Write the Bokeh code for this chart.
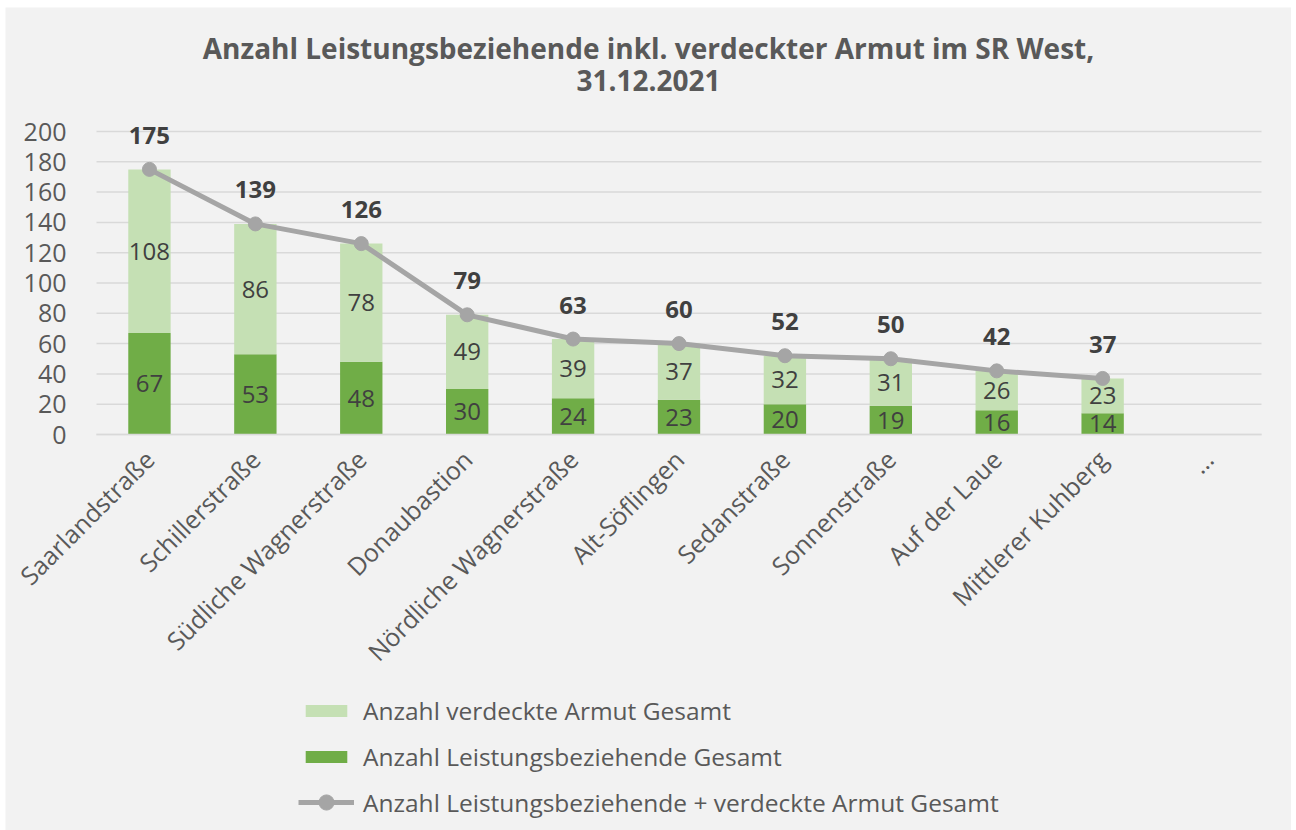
from math import pi
from bokeh.plotting import figure
from bokeh.models import (ColumnDataSource, Legend, LegendItem, FixedTicker,
                          LabelSet, Label, Range1d)
from bokeh.core.properties import value
from bokeh.embed import file_html
from bokeh.resources import INLINE

categories = ["Saarlandstraße", "Schillerstraße", "Südliche Wagnerstraße", "Donaubastion",
              "Nördliche Wagnerstraße", "Alt-Söflingen", "Sedanstraße", "Sonnenstraße",
              "Auf der Laue", "Mittlerer Kuhberg", "…"]
bar_categories = categories[:10]
leistung = [67, 53, 48, 30, 24, 23, 20, 19, 16, 14]
verdeckt = [108, 86, 78, 49, 39, 37, 32, 31, 26, 23]
gesamt = [175, 139, 126, 79, 63, 60, 52, 50, 42, 37]
y_ticks = [0, 20, 40, 60, 80, 100, 120, 140, 160, 180, 200]
title_lines = ["Anzahl Leistungsbeziehende inkl. verdeckter Armut im SR West,", "31.12.2021"]
legend_labels = ["Anzahl verdeckte Armut Gesamt", "Anzahl Leistungsbeziehende Gesamt",
                 "Anzahl Leistungsbeziehende + verdeckte Armut Gesamt"]

FONT = "Open Sans"
TXT = "#595959"
DTXT = "#404040"
LIGHT = "#c5e0b4"
DARK = "#70ad47"
LINEC = "#a5a5a5"
GRID = "#d9d9d9"

# layout geometry (pixels inside the figure)
W, H = 1286, 823
CAT_L, CAT_R = 91, 1256            # left / right edge of the category area
Y0_PX, Y200_PX = 427, 124          # pixel rows of value 0 and 200
n = len(categories)
upx = (CAT_R - CAT_L) / n
ppu = (Y0_PX - Y200_PX) / 200.0
x_lo, x_hi = -CAT_L / upx, n + (W - CAT_R) / upx
y_hi = 200 + Y200_PX / ppu
y_lo = -(H - Y0_PX) / ppu

xpos_all = [i + 0.5 for i in range(n)]
xpos = xpos_all[:len(bar_categories)]

src = ColumnDataSource(dict(
    x=xpos,
    cat=bar_categories,
    leistung=leistung,
    verdeckt=verdeckt,
    gesamt=gesamt,
    mid_l=[v / 2 for v in leistung],
    mid_v=[l + v / 2 for l, v in zip(leistung, verdeckt)],
    l_txt=[str(v) for v in leistung],
    v_txt=[str(v) for v in verdeckt],
    g_txt=[str(v) for v in gesamt],
))

p = figure(x_range=Range1d(x_lo, x_hi), y_range=Range1d(y_lo, y_hi), width=W, height=H,
           output_backend="svg", toolbar_location=None, title=None,
           min_border_left=0, min_border_right=0, min_border_top=0, min_border_bottom=0)
p.margin = (7, 0, 0, 5)

p.background_fill_color = "#f2f2f2"
p.border_fill_color = "#f2f2f2"
p.outline_line_color = None
p.xgrid.visible = False
p.ygrid.visible = False

# title (two centred lines)
for txt, yy in zip(title_lines, [H - 40, H - 73]):
    p.add_layout(Label(x=W / 2, y=yy, x_units="screen", y_units="screen",
                       text=txt, text_font=FONT, text_font_size="28px", text_font_style="bold",
                       text_color=TXT, text_align="center", text_baseline="middle"))

# horizontal grid lines over the category area
p.segment(x0=0, x1=n, y0=y_ticks, y1=y_ticks, line_color=GRID, line_width=1.5)

r_dark = p.vbar(x="x", top="leistung", bottom=0, width=0.4, source=src,
                fill_color=DARK, line_color=None)
r_light = p.vbar(x="x", top="gesamt", bottom="leistung", width=0.4, source=src,
                 fill_color=LIGHT, line_color=None)
r_line = p.line(x="x", y="gesamt", source=src, line_color=LINEC, line_width=5)
r_pts = p.scatter(x="x", y="gesamt", source=src, size=14, fill_color=LINEC, line_color=LINEC)

p.text(x="x", y="mid_l", text="l_txt", source=src, text_font=value(FONT), text_font_size="24px",
       text_color=DTXT, text_align="center", text_baseline="middle")
p.text(x="x", y="mid_v", text="v_txt", source=src, text_font=value(FONT), text_font_size="24px",
       text_color=DTXT, text_align="center", text_baseline="middle")
p.add_layout(LabelSet(x="x", y="gesamt", text="g_txt", source=src, text_font=value(FONT),
                      text_font_size="24px", text_font_style="bold", text_color=DTXT,
                      text_align="center", text_baseline="middle", y_offset=34))

# y axis at the left edge of the category area
p.yaxis.fixed_location = 0
p.yaxis.bounds = (0, 200)
p.yaxis.ticker = FixedTicker(ticks=y_ticks)
p.yaxis.axis_line_color = None
p.yaxis.major_tick_line_color = None
p.yaxis.minor_tick_line_color = None
p.yaxis.major_label_text_font = FONT
p.yaxis.major_label_text_font_size = "25px"
p.yaxis.major_label_text_color = TXT
p.yaxis.major_label_standoff = 24

# x axis at value 0
p.xaxis.fixed_location = 0
p.xaxis.bounds = (0, n)
p.xaxis.ticker = FixedTicker(ticks=xpos_all)
p.xaxis.major_label_overrides = {xv: c for xv, c in zip(xpos_all, categories)}
p.xaxis.axis_line_color = GRID
p.xaxis.axis_line_width = 1.5
p.xaxis.major_tick_line_color = None
p.xaxis.minor_tick_line_color = None
p.xaxis.major_label_orientation = pi / 4
p.xaxis.major_label_text_font = FONT
p.xaxis.major_label_text_font_size = "25px"
p.xaxis.major_label_text_color = TXT
p.xaxis.major_label_standoff = 14


def style_legend(lg, gw, gh, standoff):
    lg.background_fill_alpha = 0
    lg.border_line_color = None
    lg.padding = 0
    lg.margin = 0
    lg.spacing = 13
    lg.glyph_width = gw
    lg.glyph_height = gh
    lg.label_height = 25
    lg.label_standoff = standoff
    lg.label_text_font = FONT
    lg.label_text_font_size = "24.5px"
    lg.label_text_color = TXT


legend_bars = Legend(items=[
    LegendItem(label=legend_labels[0], renderers=[r_light]),
    LegendItem(label=legend_labels[1], renderers=[r_dark]),
], location=(295, 57), orientation="vertical")
style_legend(legend_bars, 52, 15, 11)
p.add_layout(legend_bars, "center")

legend_line = Legend(items=[
    LegendItem(label=legend_labels[2], renderers=[r_line, r_pts]),
], location=(293, 9), orientation="vertical")
style_legend(legend_line, 56, 38, 9)
p.add_layout(legend_line, "center")

open("out.html", "w").write(file_html(p, INLINE))
